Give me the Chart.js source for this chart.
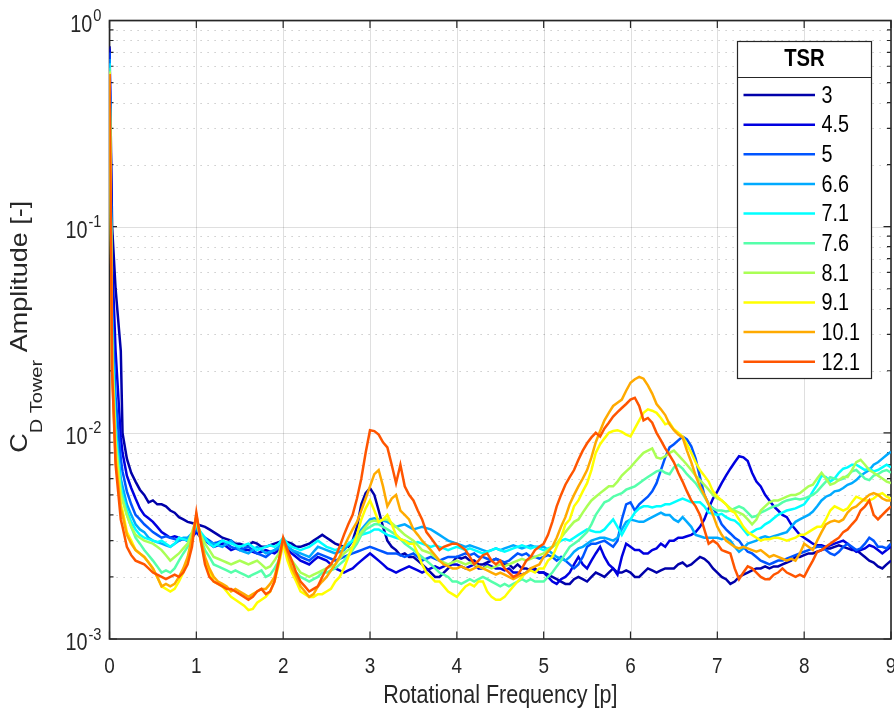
<!DOCTYPE html>
<html>
<head>
<meta charset="utf-8">
<script src="https://cdn.jsdelivr.net/npm/chart.js@4.4.1/dist/chart.umd.min.js"></script>
<style>
html,body{margin:0;padding:0;background:#fff;}
#c{display:block;width:894px;height:715px;}
</style>
</head>
<body>
<canvas id="c" width="894" height="715"></canvas>
<script>
// ---- data (amplitudes in units of 1e-4) ----
const freq = [0,0.03,0.07,0.13,
0.15,0.2,0.25,0.3,0.35,0.4,0.45,0.5,0.55,0.6,0.65,0.7,0.75,0.8,0.85,0.9,0.95,
1,1.05,1.1,1.15,1.2,1.25,1.3,1.35,1.4,1.45,1.5,1.55,1.6,1.65,1.7,1.75,1.8,1.85,1.9,1.95,
2,2.05,2.1,2.15,2.2,2.25,2.3,2.35,2.4,2.45,2.5,2.55,2.6,2.65,2.7,2.75,2.8,2.85,2.9,2.95,
3,3.05,3.1,3.15,3.2,3.25,3.3,3.35,3.4,3.45,3.5,3.55,3.6,3.65,3.7,3.75,3.8,3.85,3.9,3.95,
4,4.05,4.1,4.15,4.2,4.25,4.3,4.35,4.4,4.45,4.5,4.55,4.6,4.65,4.7,4.75,4.8,4.85,4.9,4.95,
5,5.05,5.1,5.15,5.2,5.25,5.3,5.35,5.4,5.45,5.5,5.55,5.6,5.65,5.7,5.75,5.8,5.85,5.9,5.95,
6,6.05,6.1,6.15,6.2,6.25,6.3,6.35,6.4,6.45,6.5,6.55,6.6,6.65,6.7,6.75,6.8,6.85,6.9,6.95,
7,7.05,7.1,7.15,7.2,7.25,7.3,7.35,7.4,7.45,7.5,7.55,7.6,7.65,7.7,7.75,7.8,7.85,7.9,7.95,
8,8.05,8.1,8.15,8.2,8.25,8.3,8.35,8.4,8.45,8.5,8.55,8.6,8.65,8.7,8.75,8.8,8.85,8.9,8.95,
9];

const tsr3 = [7500,1000,500,250,
100,75,64,58,53,50,46,47,45,45,44,42,41,39,38,37,36.5,
36,35.5,35,34,33,32,31,30.5,30,29,29,28.5,28.5,29.5,29,28,28,28.5,29,29.5,
30,29.5,29,28,28,28.5,29,30,31,32,31,30,29,28.5,28,28,30,35,45,51,
54,50,42,35,30,28,27,25.5,26,25,25,24,23,22,21,20,20,21,22,23.5,
25,24.5,25,24,24,23,23,23.5,24,24.5,24,23,23,22,23,22,22,21.5,22,21,
21,20.5,20,19.5,19,18.5,18.5,19.5,20,19.5,19,20,21,20.5,20,21,22,21,21,21.5,
21,20,20,21,22,21.5,21,21.5,22,22,22,23,23.5,22.5,23,24,25,24.5,23.5,22,
21,20,19.5,18.5,19,20,20.5,21,21.5,22,22,22.5,22,22.5,22.5,23,23.5,24,25,25,
25.5,26,26,26.5,27,27.5,27.5,28,28.5,28,27.5,27,27,26,25,24,23.5,22.5,22,23,
24];

const tsr4_5 = [7300,700,250,95,
80,62,54,48,43,40,38.5,37,35,33,32,31,31.5,31,30.5,30,31,
33,31,30,29,28,28.5,29,28,27,27.5,28,27,27,26.5,26,26.5,27,26.5,26,27,
29,27,26,25,24,23.5,23,24,25,24.5,24,23,22,21.5,21,21.5,22,23,24,25,
26,25,24,23,22,21.5,21,21.5,22,22.5,22,21.5,21,21.5,22,22.5,22,22.5,23,23,
23,22.5,22,22.5,23,22,22,23,22.5,22,22,21.5,22,21,21,20.5,21,22,21.5,21,
21,20,19,18.5,19.5,20,21,23,25,23,22,24,26,28,25,23,22,20.5,25,29,
28,27,27,26,26,27,27.5,29,28,30,30,31,31,31.5,32,33,35,38,43,48,
52,57,62,67,72,77,76,73,64,58,55,50,47,44,42,40,39,36,34,32,
31,30,29,28.5,28.5,28,28.5,29,29.5,30,29,27.5,26.5,27,27.5,28.5,28,27,26,27,
28];

const tsr5 = [7000,400,150,75,
65,52,45,40,38,36,34.5,33,32,31,31.5,31,30.5,30,30.5,30,31.5,
34,32,31,30,29,29.5,30,29,28,27.5,27,27.5,28,27,26,25.5,25,26,27,27.5,
29,28,27,26,25,24.5,24,25,26,25.5,25,24.5,24,24.5,25,25.5,26,26.5,27,27.5,
28,27.5,27,26.5,26,26,26,25.5,25,25.5,26,25,24,24.5,25,24.5,24,24.5,25,25,
25,25.5,26,25.5,26,25,25,24.5,24,24.5,24,23.5,24,25,26,25.5,26,25,25,24.5,
25,25.5,25,24,25,24,23,22,23,25,28,29,29,29.5,30,29,28,30,38,45,
46,42,45,47,49,52,57,66,76,85,88,92,96,93,86,75,61,50,45,43,
40,36,34,32.5,31,30,28,26.5,26,25,24,23.5,23,23.5,24,24,24.5,25,25.5,26,
26.5,27,27.5,28,28,27,26,25.5,26.5,28,29,28,27,27.5,29,31,30,28,28,27.5,
29];

const tsr6_6 = [6500,300,110,60,
55,45,40,36,34,33,31,30,29.5,29,28.5,28,29,30,31,31,32.5,
35,32,30,29.5,29,28.5,28,29,30,28.5,27,26.5,26,27,28,27,26,26.5,27,28,
30,28,27,26.5,26,25.5,25,26.5,28,27.5,27,26.5,26,26.5,27,28.5,30,32,34,36,
38,38.5,38,37.5,37,36,35,35.5,36,35,34,34.5,35,34.5,34,33,32,31,30,29.5,
29,28.5,28,28.5,28,27.5,27,26.5,27,27.5,27,27.5,28,28.5,28,27.5,28,28.5,28,28,
28,27,26,25,24.5,24,25,26.5,27.5,28,29,30,30.5,31,31,30.5,30,31,34,37,
38,37.5,37,37,38,39,40,41,40,40,38,37,39,37,35,32,31.5,31,31,31,
31,30.5,31,30,28,26.5,27.5,29,29.5,30,31,31.5,31,31.5,32,32.5,33,35,37,38,
39,40,41.5,44,47,49,50,52,52.5,54,56,57,59,62,64,66,70,72,75,78,
81];

const tsr7_1 = [6200,280,100,55,
50,42,37,34,32,31,30.5,30,29.5,30,29,28,29,31,30.5,30,32,
36,33,31,29,28,29,30,29.5,29,28.5,28,28.5,29,28,27,27.5,28,28.5,28,29,
31,29,28,27.5,27,27.5,28,29,30,29,28,27.5,27,27.5,28,29,30,31,32,32.5,
33,34,34,33,32,31.5,31,30.5,30,29.5,29,29.5,29,28.5,28,28.5,28,27.5,27,27.5,
28,27.5,27,27.5,27,26.5,26,26.5,27,27.5,27,26.5,27,27.5,28,28.5,28,27.5,28,27.5,
27,27.5,28,29,30,30.5,30,31,32,33,34,33.5,33,33,34,36,38,35,32,35,
38,41,43,44,44,43.5,44,44,45,45,46,47,48,47,46,46,46,44,41,40.5,
40,40.5,39,38,37.5,36,34,32,33,34,34.5,36,37,38.5,40,41,42,42.5,43,44,
45,48,52,56,62,61,58,60,64,67,68,70,70,68,66,67,65,66,68,70,
68];

const tsr7_6 = [5900,250,90,52,
48,40,35,31,29,27,25.5,24,22.5,21,21.5,21,22,24,26,28,32,
37,31,27,25,23,22.5,22,21.5,21,21.5,21,20.5,20,20.5,21,21.5,20,20.5,22,24,
29,25,22,21,20,19.5,19,19.5,20,21,21,21.5,22,23,24,25.5,27,29,32,34,
35,36,36,35,34,33,32,30.5,29,28,27,26,25,24,23,22,21,20.5,20,19,
19,18.5,19,19.5,19,19.5,20,19.5,19,18.5,18,18.5,18,18.5,19,19.5,19,19.5,19,19,
19,20,21,22.5,24,26,28,29,30,31.5,33,36,40,43,46,47,49,50,51,53,
54,55,57,59,61,63,65,66,64,63,68,70,67,63,60,57,53,49,45,43,
42,42,41.5,42,43,44,43,41,39,39.5,41,42,43,44,44.5,46,47,47.5,48,47.5,
48,49,50,52,55,58,61,60,59,60,62,65,66,63,60,59,62,63,65,66,
64];

const tsr8_1 = [5700,240,90,50,
47,40,35,32,31,30,29.5,29,28,27,25.5,24,25,26,27.5,29,33,
38,32,29,27,25,24.5,24,23.5,23,23.5,24,23.5,23,23.5,24,23,22,22.5,24,26,
30,26,24,22.5,21,20.5,20,20.5,21,21.5,22,22.5,23,24.5,26,27,28,30,33,35,
37,37.5,37,38,38,36.5,35,33.5,32,31,30,28.5,27,26.5,26,25,24,23.5,23,23.5,
24,23.5,23,23.5,23,22.5,22,22.5,22,22.5,23,22.5,23,23.5,24,24.5,24,24.5,25,25.5,
26,27,28,29,31,33,35,37,38,41,44,47,49,51,53,55,55,58,62,65,
68,72,76,80,82,84,76,75,77,80,82,78,74,70,66,62,59,56,53,50,
48,47,45,43,42,41,40,38,36,38,42,44,46,47,47,48,49,50,50,51,
53,55,56,60,64,60,56,57,59,61,61,66,72,74,70,66,64,62,60,58,
57];

const tsr9_1 = [5600,220,80,45,
42,33,30,27,26,25,23.5,22,20,18,17.5,17,17.5,19,21,24,30,
39,30,24,21,19,18.5,18,17,16,15.5,15,14.5,13.8,14,15,15.5,16,17,19,23,
29,24,21,19,17,16.5,16,16,16.5,16.5,17,17.5,19,20,22,25,28,32,38,43,
47,42,37,38,40,36,32,30.5,30,29,29,26,23,21,20,19,19,18,17,16.5,
16,17,18,18.5,18,19,19,17,16,15.5,15.5,16,17,18,19,20,21,21.5,21,22,
22,24,25,28,31,36,38,44,47,52,57,66,80,88,94,100,102,103,101,98,
96,105,115,125,130,128,125,118,110,112,104,100,96,88,80,72,66,62,58,52,
49,47,45,42,41,38,35,33,32,31,30,30.5,30.5,31,31,30.5,30,30.5,31,32,
32,33,34,35,35,38,42,44,43,42,43,46,49,48,47,47,48,50,51,49,
48];

const tsr10_1 = [5500,200,75,43,
40,32,29,27,26,25,23.5,22,20,18,18.5,18,18.5,20,22,25,31,
40,31,25,22,20,19,18.5,18,17,17.5,17,16.5,16,16.5,17,17.5,17.5,18.5,20,24,
30,26,22,20,18,17,16,16.5,18,19,20,21.5,23,25,28,31,34,37,42,48,
55,63,66,55,44,48,50,42,40,38,34,32,30,28.5,27,25.5,24,23,22.5,22,
22,22.5,22,21.5,22,22.5,22,21.5,21,20.5,21,20.5,20,19.5,20,20.5,21,22,22.5,23,
25,26.5,28,31,35,39,45,50,55,60,66,76,90,102,115,125,135,140,145,160,
175,182,187,183,170,155,138,130,122,110,103,98,95,82,72,62,55,50,45,40,
35,32,30,29,28,27.5,28,27.5,27,26.5,27,26,25,25.5,25,24.5,24,24.5,24,26,
29,28,27,30,33,36,37,37.5,37,38,41,43,44,46,48,50,51,50,48,47,
47];

const tsr12_1 = [5500,200,70,38,
35,28,25.5,24,23.5,23,22,21,20.5,20,19.5,20,20.5,20,21,23,28,
41,30,23,20,19,18.5,18,17.5,17.5,17,16.5,16,15.5,16,17,17.5,16.5,17,19,24,
31,27,24,21,19,18,17,17.5,18,20,22,23,25,28,32,36,40,48,60,80,
103,102,98,90,85,70,57,70,55,50,47,42,38,33,31,29,27,28,28.5,29,
29,28,27,25,23,24,25.5,26,24,23,24,22,21,20,20.5,22,24,25,27,28,
29,32,37,44,50,56,61,66,74,82,89,95,100,96,105,112,120,126,132,138,
145,148,135,115,118,112,100,92,84,78,72,64,58,52,47,44,40,34,29,30,
29,27,26.5,26,22,19.5,21,22.5,22,21,20,19.5,19.5,20.5,21,22,21,20.5,20,20.5,
20,22,24,26.5,27,28,29,30,31,33,34,36,38,42,44,47,40,38,40,42,
44];

const tsrLabels = ['3','4.5','5','6.6','7.1','7.6','8.1','9.1','10.1','12.1'];
const seriesValues = [tsr3, tsr4_5, tsr5, tsr6_6, tsr7_1, tsr7_6, tsr8_1, tsr9_1, tsr10_1, tsr12_1];
const seriesColors = ['#0000AA','#0000E0','#0055FF','#00AAFF','#00FFFF','#55FFAA','#AAFF55','#FFFF00','#FFAA00','#FF5500'];

const xTickLabels = ['0','1','2','3','4','5','6','7','8','9'];
const yTickValues = [1, 0.1, 0.01, 0.001];
const yTickExps = ['0','-1','-2','-3'];
const yMinorMultipliers = [2,3,4,5,6,7,8,9];
const yMinorDecades = [0.001, 0.01, 0.1];

const xTitle = 'Rotational Frequency [p]';
const yTitleMain = 'C';
const yTitleSub = 'D Tower';
const yTitleRest = ' Amplitude [-]';
const legendTitle = 'TSR';

// ---- chart ----
const FONT = "'Liberation Sans', Arial, Helvetica, sans-serif";
const TXT = '#262626';
const SQ = 0.86; // horizontal squeeze of the reference text

function txt(ctx, s, x, y, font, align, sx) {
  ctx.save();
  ctx.font = font;
  ctx.translate(x, y);
  ctx.scale(sx, 1);
  ctx.textAlign = align;
  ctx.fillText(s, 0, 0);
  ctx.restore();
}

const matlabAxes = {
  id: 'matlabAxes',
  beforeDatasetsDraw(chart) {
    const {ctx, chartArea: a, scales: {x, y}} = chart;
    ctx.save();
    // minor y grid (dotted)
    ctx.lineWidth = 1;
    ctx.strokeStyle = 'rgba(38,38,38,0.30)';
    ctx.setLineDash([1.2, 5.8]);
    yMinorDecades.forEach(d => yMinorMultipliers.forEach(m => {
      const py = Math.round(y.getPixelForValue(m * d)) + 0.5;
      ctx.beginPath(); ctx.moveTo(a.left, py); ctx.lineTo(a.right, py); ctx.stroke();
    }));
    ctx.setLineDash([]);
    // major grid
    ctx.strokeStyle = 'rgba(38,38,38,0.15)';
    x.ticks.forEach(t => {
      const px = Math.round(x.getPixelForValue(t.value)) + 0.5;
      ctx.beginPath(); ctx.moveTo(px, a.top); ctx.lineTo(px, a.bottom); ctx.stroke();
    });
    yTickValues.forEach(v => {
      const py = Math.round(y.getPixelForValue(v)) + 0.5;
      ctx.beginPath(); ctx.moveTo(a.left, py); ctx.lineTo(a.right, py); ctx.stroke();
    });
    // box
    ctx.strokeStyle = TXT;
    ctx.lineWidth = 1.6;
    ctx.strokeRect(a.left, a.top, a.right - a.left, a.bottom - a.top);
    // ticks
    ctx.lineWidth = 1.2;
    x.ticks.forEach(t => {
      const px = x.getPixelForValue(t.value);
      ctx.beginPath();
      ctx.moveTo(px, a.bottom); ctx.lineTo(px, a.bottom - 7.5);
      ctx.moveTo(px, a.top); ctx.lineTo(px, a.top + 7.5);
      ctx.stroke();
    });
    yTickValues.forEach(v => {
      const py = y.getPixelForValue(v);
      ctx.beginPath();
      ctx.moveTo(a.left, py); ctx.lineTo(a.left + 7.5, py);
      ctx.moveTo(a.right, py); ctx.lineTo(a.right - 7.5, py);
      ctx.stroke();
    });
    yMinorDecades.forEach(d => yMinorMultipliers.forEach(m => {
      const py = y.getPixelForValue(m * d);
      ctx.beginPath();
      ctx.moveTo(a.left, py); ctx.lineTo(a.left + 4, py);
      ctx.moveTo(a.right, py); ctx.lineTo(a.right - 4, py);
      ctx.stroke();
    }));
    // x tick labels
    ctx.fillStyle = TXT;
    ctx.textBaseline = 'alphabetic';
    x.ticks.forEach((t, i) => {
      const px = x.getPixelForValue(t.value);
      txt(ctx, xTickLabels[i], px, a.bottom + 34, '22px ' + FONT, 'center', SQ);
    });
    // y tick labels 10^k
    yTickValues.forEach((v, i) => {
      const py = y.getPixelForValue(v);
      ctx.font = '17px ' + FONT;
      const we = ctx.measureText(yTickExps[i]).width * SQ;
      ctx.font = '23px ' + FONT;
      const wb = ctx.measureText('10').width * SQ;
      const x0 = a.left - 9 - we - wb;
      txt(ctx, '10', x0, py + 11, '23px ' + FONT, 'left', SQ);
      txt(ctx, yTickExps[i], x0 + wb + 1, py + 0.5, '17px ' + FONT, 'left', SQ);
    });
    // x title
    txt(ctx, xTitle, (a.left + a.right) / 2, 703, '25px ' + FONT, 'center', SQ);
    // y title (rotated, with subscript)
    const mainF = '27px ' + FONT, subF = '20px ' + FONT;
    ctx.font = mainF; const w1 = ctx.measureText(yTitleMain).width; const w3 = ctx.measureText(yTitleRest).width;
    ctx.font = subF; const w2 = ctx.measureText(yTitleSub).width;
    const total = w1 + w2 + w3;
    const cy = (a.top + a.bottom) / 2 - 3;
    ctx.save();
    ctx.translate(27, cy + total / 2);
    ctx.rotate(-Math.PI / 2);
    ctx.scale(1, SQ);
    ctx.textAlign = 'left';
    ctx.font = mainF; ctx.fillText(yTitleMain, 0, 0);
    ctx.font = subF; ctx.fillText(yTitleSub, w1, 17);
    ctx.font = mainF; ctx.fillText(yTitleRest, w1 + w2, 0);
    ctx.restore();
    ctx.restore();
  },
  afterDatasetsDraw(chart) {
    const {ctx} = chart;
    const L = {l: 737.5, t: 41.5, r: 871.5, b: 378.5, sep: 77.5};
    ctx.save();
    ctx.fillStyle = '#ffffff';
    ctx.fillRect(L.l, L.t, L.r - L.l, L.b - L.t);
    ctx.strokeStyle = TXT;
    ctx.lineWidth = 1.2;
    ctx.strokeRect(L.l, L.t, L.r - L.l, L.b - L.t);
    ctx.beginPath(); ctx.moveTo(L.l, L.sep); ctx.lineTo(L.r, L.sep); ctx.stroke();
    ctx.fillStyle = '#000';
    ctx.textBaseline = 'middle';
    txt(ctx, legendTitle, (L.l + L.r) / 2, 60, 'bold 23px ' + FONT, 'center', 0.88);
    chart.data.datasets.forEach((ds, i) => {
      const yy = 95 + i * 29.63;
      ctx.strokeStyle = ds.borderColor;
      ctx.lineWidth = 2.5;
      ctx.beginPath(); ctx.moveTo(743.5, yy); ctx.lineTo(815, yy); ctx.stroke();
      ctx.fillStyle = '#000';
      txt(ctx, ds.label, 821.5, yy + 1.5, '23px ' + FONT, 'left', SQ);
    });
    ctx.restore();
  }
};

const datasets = seriesValues.map((vals, i) => ({
  label: tsrLabels[i],
  data: freq.map((f, j) => ({x: f, y: vals[j] * 1e-4})),
  borderColor: seriesColors[i],
  backgroundColor: seriesColors[i],
  borderWidth: 2.5,
  pointRadius: 0,
  fill: false,
  tension: 0,
  order: -i
}));

new Chart(document.getElementById('c'), {
  type: 'line',
  data: {datasets},
  options: {
    animation: false,
    responsive: false,
    devicePixelRatio: 1,
    layout: {padding: {top: 20.5, right: 3, left: 0, bottom: 0}},
    plugins: {legend: {display: false}, tooltip: {enabled: false}},
    scales: {
      x: {
        type: 'linear', min: 0, max: 9,
        ticks: {stepSize: 1, display: false},
        grid: {display: false}, border: {display: false},
        afterFit(s) { s.height = 76; }
      },
      y: {
        type: 'logarithmic', min: 0.001, max: 1,
        ticks: {display: false},
        grid: {display: false}, border: {display: false},
        afterFit(s) { s.width = 109.5; }
      }
    }
  },
  plugins: [matlabAxes]
});
</script>
</body>
</html>
